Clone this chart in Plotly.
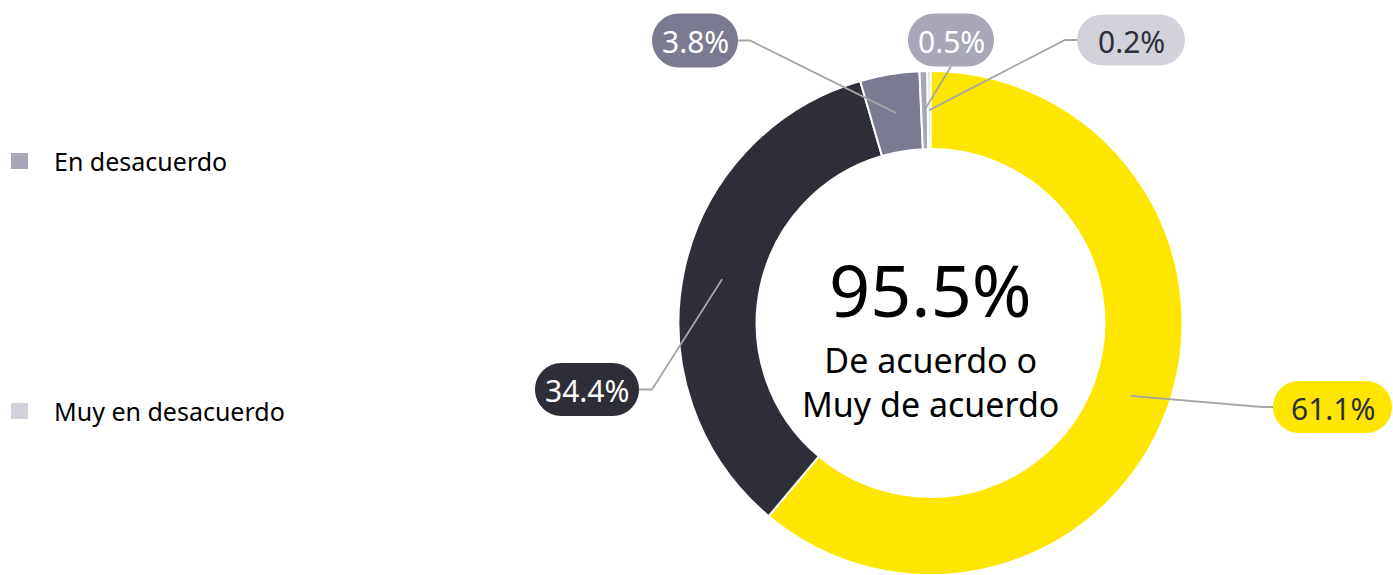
import math
import plotly.graph_objects as go

# Survey answers, clockwise from 12 o'clock
categories = ["Muy de acuerdo", "De acuerdo", "Ni de acuerdo ni en desacuerdo",
              "En desacuerdo", "Muy en desacuerdo"]
shares = [61.1, 34.4, 3.8, 0.5, 0.2]
slice_colors = ["#FFE600", "#2E2E38", "#7A7A90", "#A8A7B8", "#D2D2DA"]
label_text_colors = ["#2E2E38", "#FFFFFF", "#FFFFFF", "#FFFFFF", "#2E2E38"]

# Categories that appear in the side legend
legend_items = ["En desacuerdo", "Muy en desacuerdo"]

# Headline: share that agrees or strongly agrees
agree_total = shares[0] + shares[1]
headline_caption = "De acuerdo o<br>Muy de acuerdo"

W, H = 1393, 575
CX, CY, R_OUT, HOLE = 930.5, 323.0, 252.0, 0.69

# Callout pills: centre x, centre y, width, height (pixels)
pill_boxes = [
    (1332.5, 407, 119, 52),
    (587, 389.5, 104, 53),
    (695, 40.5, 86, 54),
    (951, 40, 86, 53),
    (1131, 40, 108, 51),
]
# Where the leader leaves the pill: side and length of the short horizontal stub
pill_exits = [("left", 11), ("right", 13), ("right", 12), ("bottom", 0), ("left", 12)]

# Legend rows (pixels)
legend_rows_y = [161, 411]
legend_square_x = 11
legend_square = 16
legend_text_x = 52

fig = go.Figure()

# Donut: domain derived from centre/radius in pixels
fig.add_trace(go.Pie(
    labels=categories,
    values=shares,
    hole=HOLE,
    sort=False,
    direction="clockwise",
    rotation=0,
    marker=dict(colors=slice_colors, line=dict(color="white", width=2)),
    textinfo="none",
    hoverinfo="label+percent",
    showlegend=False,
    domain=dict(x=[(CX - R_OUT) / W, (CX + R_OUT) / W],
                y=[(H - CY - R_OUT) / H, (H - CY + R_OUT) / H]),
))

# Invisible trace so the pixel-based cartesian frame exists
fig.add_trace(go.Scatter(x=[0, W], y=[0, H], mode="markers",
                         marker=dict(opacity=0), hoverinfo="skip",
                         showlegend=False))


def pill_path(cx, cy, w, h):
    r = h / 2
    k = 0.5523 * r
    l, rt = cx - w / 2 + r, cx + w / 2 - r
    t, b = cy - r, cy + r
    return (f"M {l},{t} L {rt},{t} "
            f"C {rt + k},{t} {rt + r},{cy - k} {rt + r},{cy} "
            f"C {rt + r},{cy + k} {rt + k},{b} {rt},{b} "
            f"L {l},{b} "
            f"C {l - k},{b} {l - r},{cy + k} {l - r},{cy} "
            f"C {l - r},{cy - k} {l - k},{t} {l},{t} Z")


shapes = []
annotations = []

total = sum(shares)
r_mid = R_OUT * (1 + HOLE) / 2
cum = 0.0
for val, box, (side, stub) in zip(shares, pill_boxes, pill_exits):
    theta = math.radians(360.0 * (cum + val / 2) / total)
    cum += val
    ax = CX + r_mid * math.sin(theta)
    ay = CY - r_mid * math.cos(theta)
    bx, by, bw, bh = box
    if side == "left":
        ex, ey = bx - bw / 2, by
        pts = [(ax, ay), (ex - stub, ey), (ex, ey)]
    elif side == "right":
        ex, ey = bx + bw / 2, by
        pts = [(ax, ay), (ex + stub, ey), (ex, ey)]
    else:
        ex, ey = bx, by + bh / 2
        pts = [(ax, ay), (ex, ey)]
    path = "M " + " L ".join(f"{x:.1f},{y:.1f}" for x, y in pts)
    shapes.append(dict(type="path", path=path, xref="x", yref="y",
                       line=dict(color="#A6A6A6", width=1.8),
                       fillcolor="rgba(0,0,0,0)", layer="above"))

for val, box, col, tcol in zip(shares, pill_boxes, slice_colors, label_text_colors):
    bx, by, bw, bh = box
    shapes.append(dict(type="path", path=pill_path(bx, by, bw, bh),
                       xref="x", yref="y", line=dict(width=0),
                       fillcolor=col, layer="above"))
    annotations.append(dict(x=bx, y=by + 1, xref="x", yref="y",
                            text=f"{val:.1f}%", showarrow=False,
                            xanchor="center", yanchor="middle",
                            font=dict(family="Noto Sans", size=30, color=tcol)))

# Centre headline
annotations.append(dict(x=CX, y=289, xref="x", yref="y",
                        text=f"{agree_total:.1f}%", showarrow=False,
                        xanchor="center", yanchor="middle",
                        font=dict(family="Noto Sans", size=72, color="#000000")))
annotations.append(dict(x=CX, y=382, xref="x", yref="y",
                        text=headline_caption, showarrow=False,
                        xanchor="center", yanchor="middle",
                        font=dict(family="Noto Sans", size=34, color="#000000")))

# Side legend
for name, ly in zip(legend_items, legend_rows_y):
    col = slice_colors[categories.index(name)]
    shapes.append(dict(type="rect", xref="x", yref="y",
                       x0=legend_square_x, x1=legend_square_x + legend_square + 1,
                       y0=ly - legend_square / 2, y1=ly + legend_square / 2,
                       fillcolor=col, line=dict(width=0)))
    annotations.append(dict(x=legend_text_x, y=ly, xref="x", yref="y",
                            text=name, showarrow=False,
                            xanchor="left", yanchor="middle",
                            font=dict(family="Noto Sans", size=25, color="#000000")))

fig.update_layout(
    width=W, height=H,
    margin=dict(l=0, r=0, t=0, b=0),
    paper_bgcolor="white", plot_bgcolor="white",
    xaxis=dict(range=[0, W], visible=False, fixedrange=True),
    yaxis=dict(range=[H, 0], visible=False, fixedrange=True),
    shapes=shapes,
    annotations=annotations,
    showlegend=False,
)

fig.write_html("out.html")
